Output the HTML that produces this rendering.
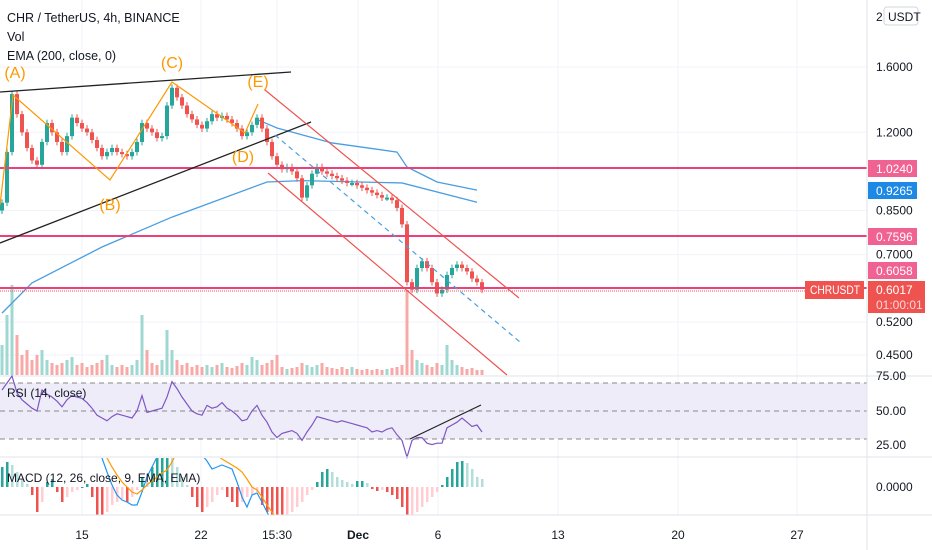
<!DOCTYPE html>
<html><head><meta charset="utf-8"><style>
body{margin:0;background:#fff;font-family:"Liberation Sans",sans-serif;}
svg{display:block}
text{font-family:"Liberation Sans",sans-serif;}
</style></head><body>
<svg id="c" width="932" height="550">
<rect width="932" height="550" fill="#fff"/>
<g id="grid"></g>
<g id="main"></g>
<g id="over"></g>
<g id="rsi"></g>
<g id="macd"></g>
<g id="axis"></g>
</svg>
<script>
const closes=[0.88,1.10,1.42,1.30,1.20,1.12,1.06,1.04,1.15,1.25,1.20,1.15,1.10,1.18,1.28,1.25,1.22,1.20,1.16,1.12,1.08,1.10,1.12,1.10,1.09,1.08,1.10,1.15,1.25,1.22,1.20,1.17,1.18,1.35,1.46,1.40,1.35,1.30,1.27,1.24,1.22,1.26,1.30,1.28,1.29,1.27,1.25,1.22,1.18,1.20,1.24,1.28,1.22,1.15,1.08,1.04,1.02,1.03,1.01,0.98,0.90,0.95,1.00,1.03,1.01,1.00,0.99,0.98,0.97,0.96,0.96,0.95,0.94,0.93,0.92,0.91,0.90,0.90,0.89,0.86,0.80,0.62,0.60,0.66,0.68,0.66,0.62,0.59,0.60,0.64,0.66,0.67,0.66,0.65,0.63,0.62,0.60];
const volumes=[30,60,90,40,20,25,15,20,25,15,12,10,12,15,18,10,12,8,10,12,15,20,10,8,10,8,10,15,60,25,12,10,15,45,25,15,10,12,8,10,8,10,8,10,12,8,7,9,12,10,18,15,10,12,15,20,8,6,7,8,12,10,8,10,12,8,7,6,8,6,8,6,5,6,5,6,5,6,7,8,10,85,25,15,12,10,8,12,10,30,15,10,8,6,7,5,5];
const emaIdx=[0,6,20,34,53,60,80,95];
const emaVals=[0.541,0.618,0.724,0.826,0.964,0.97,0.96,0.882];
const bandIdx=[51,55,66,79,81,87,95];
const bandVals=[1.27,1.223,1.145,1.10,1.03,0.964,0.93];
const rsiVals=[65,70,75,63,58,55,52,50,65,62,60,57,53,58,61,60,59,56,52,47,45,43,46,48,47,46,45,50,61,49,50,51,52,60,71,66,60,55,50,48,47,54,52,53,56,52,50,47,43,44,50,54,47,42,35,31,34,35,36,34,29,35,40,46,45,44,43,42,43,42,41,40,39,38,35,36,35,37,38,33,29,17,29,31,31,27,26,27,27,38,40,42,45,42,39,40,35];
const histVals=[20,25,22,15,8,3,-8,-25,-15,5,8,-5,-15,-10,-5,-3,0,3,-10,-28,-30,-25,-18,-15,-12,-15,-10,-3,10,5,20,30,30,35,30,20,10,2,-10,-20,-25,-20,-15,-8,-3,-10,-15,-20,-15,-10,-8,-5,-18,-25,-30,-32,-32,-28,-25,-20,-15,-8,-3,5,15,18,15,10,7,5,3,6,6,4,-2,-4,-3,-5,-8,-12,-20,-32,-30,-25,-20,-15,-10,-5,2,10,18,25,26,24,18,10,8];
const macdVals=[50,50,50,50,50,50,50,50,50,50,50,50,50,50,50,50,50,50,50,40,29,15,2,-8,-13,-15,-18,-18,-5,10,20,30,40,50,50,50,50,50,50,50,32,26,18,20,22,20,18,5,-10,-20,-8,-6,-15,-25,-35];
const signalVals=[50,50,50,50,50,50,50,50,50,50,50,50,50,50,50,50,50,50,50,50,50,29,20,12,5,0,-5,-7,-3,2,6,10,14,17,25,35,50,50,50,50,50,50,50,32,28,25,22,19,15,8,0,-3,-10,-18,-25,-32];
const priceTicks=[1.6,1.2,0.85,0.7,0.52,0.45];
const timeLabels=["15","22","15:30","Dec","6","13","20","27"];
const timePos=[82,201,277,358,438,558,678,797];

const NS="http://www.w3.org/2000/svg";
function el(tag,attrs,parent,name,inter){const e=document.createElementNS(NS,tag);for(const k in attrs)e.setAttribute(k,attrs[k]);


parent.appendChild(e);return e;}
const X=i=>2+i*5;
const Y=p=>67+(Math.log(1.6)-Math.log(p))*227;
const RY=v=>411-(v-50)*1.4;
const MY=v=>487-v;
const G=document.getElementById('grid'),M=document.getElementById('main'),O=document.getElementById('over'),R=document.getElementById('rsi'),MC=document.getElementById('macd'),A=document.getElementById('axis');
const UP='#26a69a',DN='#ef5350';
priceTicks.forEach(p=>{el('line',{x1:0,x2:867,y1:Y(p),y2:Y(p),stroke:'#f0f3fa'},G,'h-gridline',false);});
timePos.forEach(x=>{el('line',{x1:x,x2:x,y1:0,y2:515,stroke:'#f0f3fa'},G,'v-gridline',false);});
volumes.forEach((v,i)=>{const up=i==0||closes[i]>=closes[i-1];
el('rect',{x:X(i)-1.5,y:375-v,width:3,height:v,fill:up?'#9fd8d2':'#f7a9a7'},M,'volume-bar',false);});
function sparse(idx,vals){return idx.map((k,j)=>X(k)+','+Y(vals[j])).join(' ');}
el('polyline',{points:sparse(emaIdx,emaVals),fill:'none',stroke:'#4a9ee0','stroke-width':1.3},M,'ema-200-line',false);
el('polyline',{points:sparse(bandIdx,bandVals),fill:'none',stroke:'#4a9ee0','stroke-width':1.3},M,'upper-band-line',false);
closes.forEach((c,i)=>{const o=i==0?0.85:closes[i-1];const up=c>=o;const col=up?UP:DN;
const hi=Math.max(o,c)*1.015,lo=Math.min(o,c)*0.985;
el('line',{x1:X(i),x2:X(i),y1:Y(hi),y2:Y(lo),stroke:col,'stroke-width':1},M,'candle-wick',false);
const t=Y(Math.max(o,c)),b=Y(Math.min(o,c));
el('rect',{x:X(i)-2,y:t,width:4,height:Math.max(2,b-t),fill:col},M,'candle',false);});
[[168,'#ec407a'],[236,'#ec407a'],[288,'#ec407a']].forEach(([y,c])=>el('line',{x1:0,x2:867,y1:y,y2:y,stroke:c,'stroke-width':2},O,'support-resistance-line',true));
el('line',{x1:0,x2:805,y1:291,y2:291,stroke:'#ef5350','stroke-dasharray':'1 1'},O,'last-price-line',false);
el('line',{x1:0,y1:92,x2:291,y2:72,stroke:'#222','stroke-width':1.3},O,'upper-trendline',true);
el('line',{x1:0,y1:243,x2:311,y2:122,stroke:'#222','stroke-width':1.3},O,'lower-trendline',true);
el('polyline',{points:'0,205 13,95 110,180 172,82 245,133 258,104',fill:'none',stroke:'#ff9800','stroke-width':1.2},O,'abcde-wave',true);
[['(A)',15,78],['(B)',110,210],['(C)',172,68],['(D)',243,162],['(E)',258,87]].forEach(([t,x,y])=>{const e=el('text',{x:x,y:y,fill:'#ff9800','font-size':16,'text-anchor':'middle'},O,'wave-label',false);e.textContent=t;});
el('line',{x1:265,y1:90,x2:519,y2:298,stroke:'#ef5350','stroke-width':1.2},O,'channel-upper',true);
el('line',{x1:268,y1:173,x2:507,y2:375,stroke:'#ef5350','stroke-width':1.2},O,'channel-lower',true);
el('line',{x1:275,y1:135,x2:520,y2:342,stroke:'#4a9ee0','stroke-width':1.2,'stroke-dasharray':'5 4'},O,'channel-middle',false);
[['CHR / TetherUS, 4h, BINANCE',22],['Vol',41],['EMA (200, close, 0)',60]].forEach(([t,y])=>{const e=el('text',{x:7,y:y,fill:'#131722','font-size':12.5},O,'legend-text',false);e.textContent=t;});
el('line',{x1:0,x2:932,y1:376,y2:376,stroke:'#e0e3eb'},R,'pane-separator',false);
el('rect',{x:0,y:383,width:867,height:56,fill:'#efecfa'},R,'rsi-band',false);
[383,411,439].forEach(y=>el('line',{x1:0,x2:867,y1:y,y2:y,stroke:'#888','stroke-dasharray':'5 4'},R,'rsi-level-line',false));
el('polyline',{points:rsiVals.map((v,i)=>X(i)+','+RY(v)).join(' '),fill:'none',stroke:'#7e57c2','stroke-width':1.2},R,'rsi-line',false);
el('line',{x1:410,y1:439,x2:481,y2:405,stroke:'#222','stroke-width':1.2},R,'rsi-trendline',true);
{const e=el('text',{x:7,y:397,fill:'#131722','font-size':12},R,'rsi-title',false);e.textContent='RSI (14, close)';}
el('line',{x1:0,x2:932,y1:457,y2:457,stroke:'#e0e3eb'},MC,'pane-separator',false);
const cp=el('clipPath',{id:'mclip'},MC,'macd-clip',false);el('rect',{x:0,y:458,width:867,height:57},cp,'macd-clip-rect',false);
const mg=el('g',{'clip-path':'url(#mclip)'},MC,'macd-content',false);
histVals.forEach((v,i)=>{const prev=i?histVals[i-1]:v;let col;
if(v>=0)col=v>=prev?'#26a69a':'#b2dfdb';else col=v<=prev?'#ef5350':'#ffcdd2';
el('rect',{x:X(i)-1,y:Math.min(MY(v),487),width:2.5,height:Math.max(1,Math.abs(v)),fill:col},mg,'macd-histogram-bar',false);});
el('polyline',{points:macdVals.map((v,i)=>X(i)+','+MY(v)).join(' '),fill:'none',stroke:'#2196f3','stroke-width':1.2},mg,'macd-line',false);
el('polyline',{points:signalVals.map((v,i)=>X(i)+','+MY(v)).join(' '),fill:'none',stroke:'#ff9800','stroke-width':1.2},mg,'signal-line',false);
{const e=el('text',{x:7,y:482,fill:'#131722','font-size':12},MC,'macd-title',false);e.textContent='MACD (12, 26, close, 9, EMA, EMA)';}
el('line',{x1:0,x2:932,y1:515,y2:515,stroke:'#e0e3eb'},MC,'time-axis-separator',false);
el('line',{x1:867,x2:867,y1:0,y2:550,stroke:'#e0e3eb'},A,'price-axis-border',false);
priceTicks.forEach(p=>{const e=el('text',{x:876,y:Y(p)+4,fill:'#131722','font-size':12},A,'price-tick',false);e.textContent=p.toFixed(4);});
[['75.00',380],['50.00',415],['25.00',449],['0.0000',491]].forEach(([t,y])=>{const e=el('text',{x:876,y:y,fill:'#131722','font-size':12},A,'indicator-tick',false);e.textContent=t;});
{const e=el('text',{x:876,y:21,fill:'#131722','font-size':12},A,'price-tick',false);e.textContent='2';
el('rect',{x:884,y:7,width:34,height:18,rx:3,fill:'#fff',stroke:'#d1d4dc'},A,'currency-button',true);
const t=el('text',{x:888,y:21,fill:'#131722','font-size':12},A,'currency-label',false);t.textContent='USDT';}
function tag(y,h,col,txt,name){el('rect',{x:868,y:y,width:49,height:h,fill:col},A,name,false);
const e=el('text',{x:876,y:y+13,fill:'#fff','font-size':12},A,name+'-text',false);e.textContent=txt;}
tag(160,17,'#f06292','1.0240','level-label');
tag(182,17,'#1e88e5','0.9265','ema-label');
tag(228,17,'#f06292','0.7596','level-label');
tag(262,17,'#f06292','0.6058','level-label');
el('rect',{x:868,y:281,width:57,height:32,fill:'#ef5350'},A,'last-price-label',false);
{let e=el('text',{x:876,y:294,fill:'#fff','font-size':12},A,'last-price-text',false);e.textContent='0.6017';
e=el('text',{x:876,y:309,fill:'#ffd5d4','font-size':12},A,'countdown-text',false);e.textContent='01:00:01';}
el('rect',{x:805,y:281,width:59,height:18,fill:'#ef5350'},A,'symbol-label',false);
{const e=el('text',{x:810,y:294,fill:'#fff','font-size':12,textLength:50,lengthAdjust:'spacingAndGlyphs'},A,'symbol-label-text',false);e.textContent='CHRUSDT';}
timeLabels.forEach((t,i)=>{const e=el('text',{x:timePos[i],y:539,fill:'#131722','font-size':12,'text-anchor':'middle','font-weight':t==='Dec'?'bold':'normal'},A,'time-tick',false);e.textContent=t;});
</script>
</body></html>
